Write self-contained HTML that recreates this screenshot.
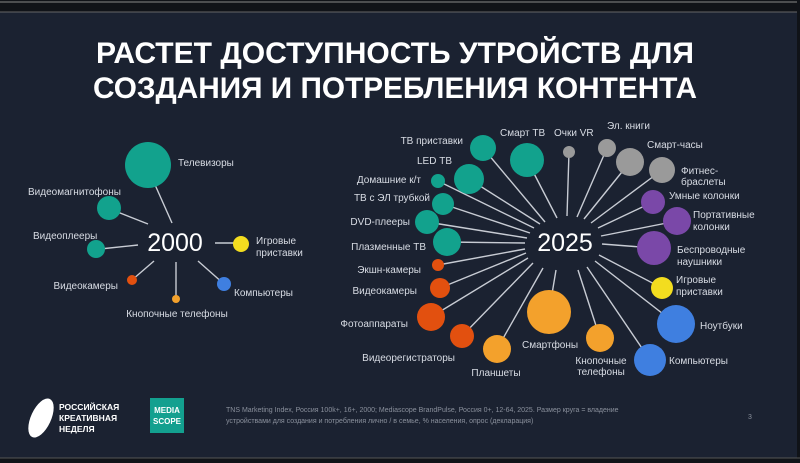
<!DOCTYPE html>
<html><head><meta charset="utf-8"><style>
html,body{margin:0;padding:0;background:#1b2231;}
svg{display:block}
text{font-family:"Liberation Sans","DejaVu Sans",sans-serif;fill:#d8dce4;}
</style></head><body>
<svg width="800" height="463" viewBox="0 0 800 463" xmlns="http://www.w3.org/2000/svg">
<rect width="800" height="463" fill="#1b2231"/>
<rect width="800" height="12" fill="#101318"/>
<line x1="0" y1="2" x2="800" y2="2" stroke="#888" stroke-width="1"/>
<line x1="0" y1="12" x2="800" y2="12" stroke="#666" stroke-width="1"/>
<rect x="797" y="0" width="3" height="463" fill="#101318"/>
<rect x="0" y="458" width="800" height="5" fill="#101318"/>
<line x1="0" y1="458" x2="800" y2="458" stroke="#555" stroke-width="1"/>

<g font-weight="bold" font-size="30" text-anchor="middle" style="fill:#fff">
<text x="395" y="63" style="fill:#fff" textLength="598" lengthAdjust="spacingAndGlyphs">РАСТЕТ ДОСТУПНОСТЬ УТРОЙСТВ ДЛЯ</text>
<text x="395" y="98" style="fill:#fff" textLength="604" lengthAdjust="spacingAndGlyphs">СОЗДАНИЯ И ПОТРЕБЛЕНИЯ КОНТЕНТА</text>
</g>

<!-- 2000 -->
<g stroke="#c8ccd4" stroke-width="1.4">
<line x1="152" y1="178" x2="172" y2="223"/>
<line x1="115" y1="211" x2="148" y2="224"/>
<line x1="100" y1="249" x2="138" y2="245"/>
<line x1="215" y1="243" x2="240" y2="243"/>
<line x1="132" y1="280" x2="154" y2="261"/>
<line x1="176" y1="299" x2="176" y2="262"/>
<line x1="224" y1="284" x2="198" y2="261"/>
</g>
<circle cx="148" cy="165" r="23" fill="#12a28d"/>
<circle cx="109" cy="208" r="12" fill="#12a28d"/>
<circle cx="96" cy="249" r="9" fill="#12a28d"/>
<circle cx="241" cy="244" r="8" fill="#f3dd1f"/>
<circle cx="132" cy="280" r="5" fill="#e2500f"/>
<circle cx="176" cy="299" r="4" fill="#f3a12c"/>
<circle cx="224" cy="284" r="7" fill="#3f7fe0"/>
<text x="175" y="251" font-size="25" text-anchor="middle" style="fill:#fff">2000</text>
<g font-size="10">
<text x="178" y="166">Телевизоры</text>
<text x="28" y="195">Видеомагнитофоны</text>
<text x="33" y="239">Видеоплееры</text>
<text x="256" y="244">Игровые</text>
<text x="256" y="256">приставки</text>
<text x="118" y="289" text-anchor="end">Видеокамеры</text>
<text x="177" y="317" text-anchor="middle">Кнопочные телефоны</text>
<text x="234" y="296">Компьютеры</text>
</g>

<!-- 2025 -->
<g stroke="#c8ccd4" stroke-width="1.4">
<line x1="483" y1="148" x2="545" y2="222"/>
<line x1="527" y1="160" x2="557" y2="218"/>
<line x1="569" y1="152" x2="567" y2="216"/>
<line x1="607" y1="148" x2="577" y2="217"/>
<line x1="630" y1="162" x2="584" y2="219"/>
<line x1="662" y1="170" x2="591" y2="223"/>
<line x1="653" y1="202" x2="598" y2="228"/>
<line x1="677" y1="221" x2="601" y2="236"/>
<line x1="654" y1="248" x2="602" y2="244"/>
<line x1="662" y1="288" x2="599" y2="255"/>
<line x1="676" y1="324" x2="595" y2="261"/>
<line x1="650" y1="360" x2="587" y2="267"/>
<line x1="600" y1="338" x2="578" y2="270"/>
<line x1="549" y1="312" x2="556" y2="270"/>
<line x1="497" y1="349" x2="543" y2="268"/>
<line x1="462" y1="336" x2="533" y2="263"/>
<line x1="431" y1="317" x2="528" y2="258"/>
<line x1="440" y1="288" x2="526" y2="253"/>
<line x1="438" y1="265" x2="525" y2="249"/>
<line x1="447" y1="242" x2="525" y2="243"/>
<line x1="427" y1="222" x2="527" y2="238"/>
<line x1="443" y1="204" x2="530" y2="233"/>
<line x1="438" y1="181" x2="534" y2="228"/>
<line x1="469" y1="179" x2="540" y2="224"/>
</g>
<g>
<circle cx="483" cy="148" r="13" fill="#12a28d"/>
<circle cx="527" cy="160" r="17" fill="#12a28d"/>
<circle cx="569" cy="152" r="6" fill="#9a9a9a"/>
<circle cx="607" cy="148" r="9" fill="#9a9a9a"/>
<circle cx="630" cy="162" r="14" fill="#9a9a9a"/>
<circle cx="662" cy="170" r="13" fill="#9a9a9a"/>
<circle cx="653" cy="202" r="12" fill="#7a48a8"/>
<circle cx="677" cy="221" r="14" fill="#7a48a8"/>
<circle cx="654" cy="248" r="17" fill="#7a48a8"/>
<circle cx="662" cy="288" r="11" fill="#f3dd1f"/>
<circle cx="676" cy="324" r="19" fill="#3f7fe0"/>
<circle cx="650" cy="360" r="16" fill="#3f7fe0"/>
<circle cx="600" cy="338" r="14" fill="#f3a12c"/>
<circle cx="549" cy="312" r="22" fill="#f3a12c"/>
<circle cx="497" cy="349" r="14" fill="#f3a12c"/>
<circle cx="462" cy="336" r="12" fill="#e2500f"/>
<circle cx="431" cy="317" r="14" fill="#e2500f"/>
<circle cx="440" cy="288" r="10" fill="#e2500f"/>
<circle cx="438" cy="265" r="6" fill="#e2500f"/>
<circle cx="447" cy="242" r="14" fill="#12a28d"/>
<circle cx="427" cy="222" r="12" fill="#12a28d"/>
<circle cx="443" cy="204" r="11" fill="#12a28d"/>
<circle cx="438" cy="181" r="7" fill="#12a28d"/>
<circle cx="469" cy="179" r="15" fill="#12a28d"/>
</g>
<text x="565" y="251" font-size="25" text-anchor="middle" style="fill:#fff">2025</text>
<g font-size="10">
<text x="463" y="144" text-anchor="end">ТВ приставки</text>
<text x="500" y="136">Смарт ТВ</text>
<text x="554" y="136">Очки VR</text>
<text x="607" y="129">Эл. книги</text>
<text x="647" y="148">Смарт-часы</text>
<text x="681" y="174">Фитнес-</text>
<text x="681" y="185">браслеты</text>
<text x="669" y="199">Умные колонки</text>
<text x="693" y="218">Портативные</text>
<text x="693" y="230">колонки</text>
<text x="677" y="253">Беспроводные</text>
<text x="677" y="265">наушники</text>
<text x="676" y="283">Игровые</text>
<text x="676" y="295">приставки</text>
<text x="700" y="329">Ноутбуки</text>
<text x="669" y="364">Компьютеры</text>
<text x="601" y="364" text-anchor="middle">Кнопочные</text>
<text x="601" y="375" text-anchor="middle">телефоны</text>
<text x="522" y="348">Смартфоны</text>
<text x="496" y="376" text-anchor="middle">Планшеты</text>
<text x="455" y="361" text-anchor="end">Видеорегистраторы</text>
<text x="408" y="327" text-anchor="end">Фотоаппараты</text>
<text x="417" y="294" text-anchor="end">Видеокамеры</text>
<text x="421" y="273" text-anchor="end">Экшн-камеры</text>
<text x="426" y="250" text-anchor="end">Плазменные ТВ</text>
<text x="410" y="225" text-anchor="end">DVD-плееры</text>
<text x="430" y="201" text-anchor="end">ТВ с ЭЛ трубкой</text>
<text x="421" y="183" text-anchor="end">Домашние к/т</text>
<text x="452" y="164" text-anchor="end">LED ТВ</text>
</g>

<!-- footer -->
<ellipse cx="41" cy="418" rx="10" ry="21" transform="rotate(25 41 418)" fill="#fff"/>
<g font-size="8.5" font-weight="bold">
<text x="59" y="410" style="fill:#fff">РОССИЙСКАЯ</text>
<text x="59" y="421" style="fill:#fff">КРЕАТИВНАЯ</text>
<text x="59" y="432" style="fill:#fff">НЕДЕЛЯ</text>
</g>
<rect x="150" y="398" width="34" height="35" fill="#13a08f"/>
<text x="167" y="413" font-size="8" font-weight="bold" text-anchor="middle" style="fill:#fff">MEDIA</text>
<text x="167" y="424" font-size="8" font-weight="bold" text-anchor="middle" style="fill:#fff">SCOPE</text>
<g font-size="7" style="fill:#8a909c">
<text x="226" y="412" style="fill:#8a909c">TNS Marketing Index, Россия 100k+, 16+, 2000; Mediascope BrandPulse, Россия 0+, 12-64, 2025. Размер круга = владение</text>
<text x="226" y="423" style="fill:#8a909c">устройствами для создания и потребления лично / в семье, % населения, опрос (декларация)</text>
<text x="748" y="419" style="fill:#8a909c">3</text>
</g>
</svg>
</body></html>
